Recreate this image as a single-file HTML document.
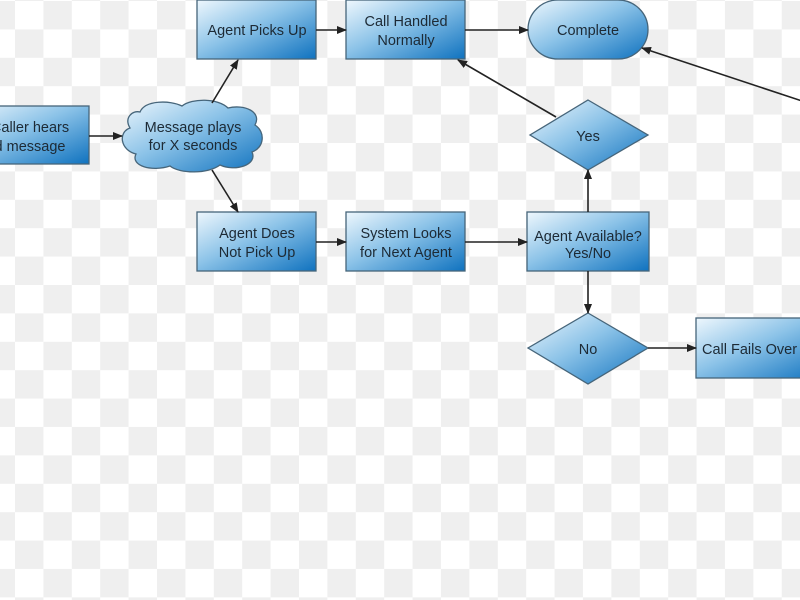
<!DOCTYPE html>
<html><head><meta charset="utf-8"><style>
html,body{margin:0;padding:0;width:800px;height:600px;overflow:hidden}
body{background:conic-gradient(#efefef 0 25%,#fff 0 50%,#efefef 0 75%,#fff 0);background-size:56.8px 56.8px;background-position:15px 1px}
svg{position:absolute;left:0;top:0}
text{font-family:"Liberation Sans",sans-serif;font-size:14.5px;fill:#1d2a35;text-anchor:middle}
</style></head><body>
<svg width="800" height="600" viewBox="0 0 800 600">
<defs>
<linearGradient id="g" x1="0" y1="0" x2="1" y2="1">
<stop offset="0" stop-color="#eef7fd"/><stop offset="0.45" stop-color="#8cc3e8"/><stop offset="1" stop-color="#0f72bf"/>
</linearGradient>
<marker id="a" markerWidth="10" markerHeight="8" refX="9" refY="4" orient="auto" markerUnits="userSpaceOnUse">
<path d="M0,0 L10,4 L0,8 z" fill="#222"/>
</marker>
</defs>
<g stroke="#46657a" stroke-width="1.3" fill="url(#g)">
<rect x="-40" y="106" width="129" height="58"/>
<path d="M140,112 C145,100 170,100 182,106 C192,98 218,98 228,108 C245,104 262,112 255,125 C266,132 264,148 252,152 C258,165 235,172 220,165 C208,174 180,174 170,166 C152,172 130,166 136,154 C120,150 118,132 130,128 C124,118 132,110 140,112 Z"/>
<rect x="197" y="0" width="119" height="59"/>
<rect x="197" y="212" width="119" height="59"/>
<rect x="346" y="0" width="119" height="59"/>
<rect x="346" y="212" width="119" height="59"/>
<rect x="528" y="0" width="120" height="59" rx="30"/>
<rect x="527" y="212" width="122" height="59"/>
<path d="M588,100 L648,135 L588,170 L530,135 Z"/>
<path d="M588,313 L648,348 L588,384 L528,348 Z"/>
<rect x="696" y="318" width="130" height="60"/>
</g>
<g stroke="#222" stroke-width="1.6" fill="none" marker-end="url(#a)">
<line x1="89" y1="136" x2="122" y2="136"/>
<line x1="212" y1="103" x2="238" y2="60"/>
<line x1="212" y1="170" x2="238" y2="212"/>
<line x1="316" y1="30" x2="346" y2="30"/>
<line x1="465" y1="30" x2="528" y2="30"/>
<line x1="316" y1="242" x2="346" y2="242"/>
<line x1="465" y1="242" x2="527" y2="242"/>
<line x1="588" y1="212" x2="588" y2="170"/>
<line x1="556" y1="117" x2="458" y2="60"/>
<line x1="588" y1="271" x2="588" y2="313"/>
<line x1="648" y1="348" x2="696" y2="348"/>
<line x1="805" y1="102" x2="642" y2="48"/>
</g>
<text x="30" y="132">Caller hears</text>
<text x="30" y="151">d message</text>
<text x="193" y="132">Message plays</text>
<text x="193" y="150">for X seconds</text>
<text x="257" y="35">Agent Picks Up</text>
<text x="257" y="238">Agent Does</text>
<text x="257" y="257">Not Pick Up</text>
<text x="406" y="26">Call Handled</text>
<text x="406" y="45">Normally</text>
<text x="406" y="238">System Looks</text>
<text x="406" y="257">for Next Agent</text>
<text x="588" y="35">Complete</text>
<text x="588" y="241">Agent Available?</text>
<text x="588" y="258">Yes/No</text>
<text x="588" y="141">Yes</text>
<text x="588" y="354">No</text>
<text x="702" y="354" style="text-anchor:start">Call Fails Over</text>
</svg>
</body></html>
